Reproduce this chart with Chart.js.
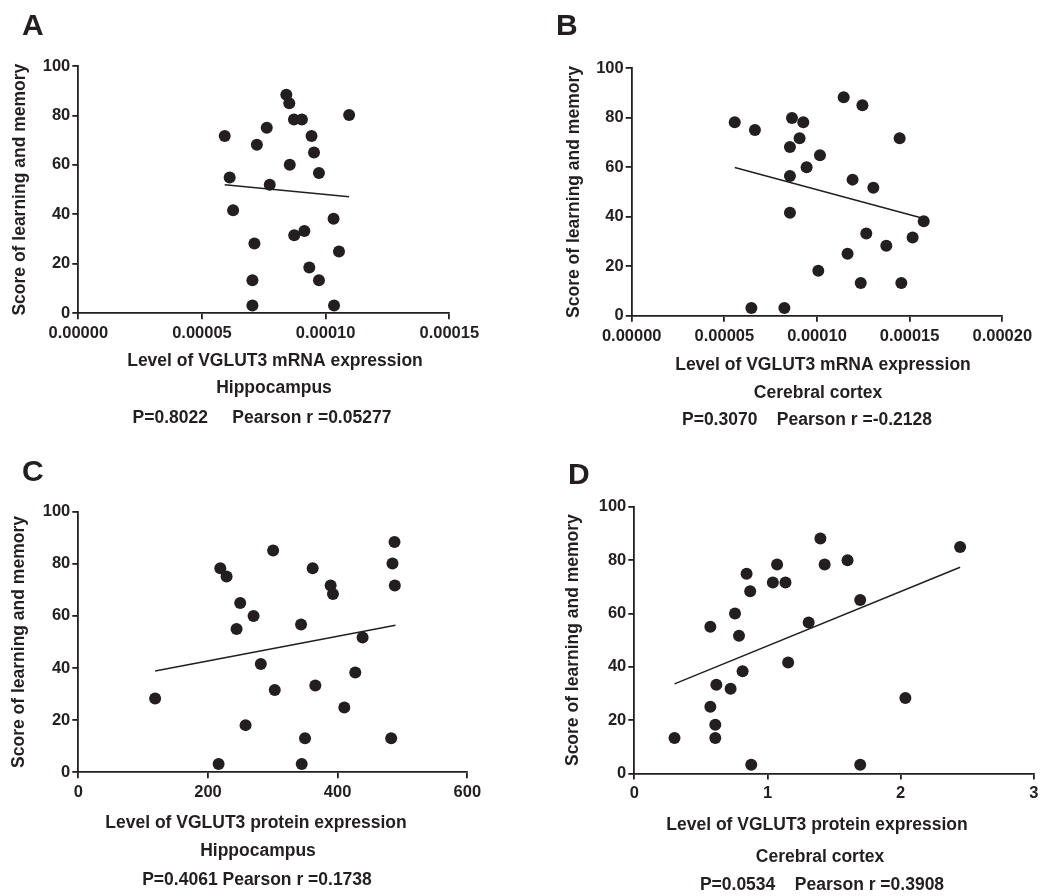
<!DOCTYPE html>
<html>
<head>
<meta charset="utf-8">
<script src="https://cdn.jsdelivr.net/npm/chart.js@4.4.0/dist/chart.umd.min.js"></script>
<style>
  html, body { margin: 0; padding: 0; background: #fff; }
  body { width: 1043px; height: 896px; position: relative; overflow: hidden; }
  canvas { position: absolute; }
</style>
</head>
<body>
<canvas id="panelA" width="521" height="448" style="left:0px;top:0px"></canvas>
<canvas id="panelB" width="522" height="448" style="left:521px;top:0px"></canvas>
<canvas id="panelC" width="521" height="448" style="left:0px;top:448px"></canvas>
<canvas id="panelD" width="522" height="448" style="left:521px;top:448px"></canvas>
<script>
// A - hippocampus, mRNA
const hipMrnaX = [5.92e-5, 6.12e-5, 6.26e-5, 7.04e-5, 7.04e-5, 7.12e-5, 7.22e-5, 7.62e-5, 7.74e-5, 8.41e-5,
                  8.53e-5, 8.55e-5, 8.72e-5, 8.73e-5, 9.04e-5, 9.14e-5, 9.34e-5, 9.43e-5, 9.53e-5, 9.73e-5,
                  9.73e-5, 1.032e-4, 1.034e-4, 1.054e-4, 1.095e-4];
const hipMrnaY = [71.7, 54.9, 41.7, 13.4, 3.2, 28.2, 68.2, 75.0, 52.0, 88.4,
                  84.9, 60.1, 78.4, 31.6, 78.4, 33.3, 18.5, 71.7, 65.0, 56.7,
                  13.4, 38.2, 3.2, 25.0, 80.2];
const hipMrnaFitX = [5.92e-5, 1.095e-4];
const hipMrnaFitY = [52.0, 47.1];

// B - cerebral cortex, mRNA
const ctxMrnaX = [5.56e-5, 6.46e-5, 6.65e-5, 8.24e-5, 8.54e-5, 8.54e-5, 8.54e-5, 8.65e-5, 9.06e-5, 9.26e-5,
                  9.44e-5, 1.007e-4, 1.016e-4, 1.144e-4, 1.165e-4, 1.192e-4, 1.236e-4, 1.245e-4, 1.266e-4, 1.304e-4,
                  1.374e-4, 1.446e-4, 1.455e-4, 1.516e-4, 1.576e-4];
const ctxMrnaY = [78.2, 3.1, 75.1, 3.1, 68.2, 56.5, 41.6, 79.9, 71.7, 78.2,
                  60.0, 18.2, 64.9, 88.3, 25.0, 55.0, 13.2, 85.1, 33.2, 51.7,
                  28.3, 71.7, 13.2, 31.6, 38.2];
const ctxMrnaFitX = [5.56e-5, 1.576e-4];
const ctxMrnaFitY = [59.9, 39.3];

// C - hippocampus, protein
const hipProtX = [118.5, 216.4, 219, 228.7, 244.1, 249.7, 258, 270.3, 281.5, 300.5,
                  303, 343.6, 344.6, 349.7, 361.5, 365.6, 389.2, 392.8, 410.3, 427.2,
                  438.5, 482.6, 484.6, 487.7, 488.2];
const hipProtY = [28.3, 3.2, 78.3, 75.1, 55.0, 65.0, 18.1, 60.0, 41.6, 85.1,
                  31.6, 56.7, 3.2, 13.1, 78.3, 33.3, 71.7, 68.4, 24.9, 38.3,
                  51.7, 13.1, 80.1, 88.4, 71.7];
const hipProtFitX = [118.5, 489.2];
const hipProtFitY = [38.9, 56.4];

// D - cerebral cortex, protein
const ctxProtX = [0.302, 0.571, 0.571, 0.608, 0.608, 0.616, 0.723, 0.756, 0.786, 0.813,
                  0.843, 0.870, 0.878, 1.04, 1.072, 1.135, 1.155, 1.309, 1.397, 1.429,
                  1.601, 1.696, 1.696, 2.035, 2.446];
const ctxProtY = [13.3, 55.0, 25.0, 18.3, 13.3, 33.3, 31.8, 60.0, 51.6, 38.3,
                  74.9, 68.3, 3.3, 71.6, 78.3, 71.6, 41.6, 56.6, 88.1, 78.3,
                  79.9, 65.0, 3.3, 28.3, 84.9];
const ctxProtFitX = [0.302, 2.446];
const ctxProtFitY = [33.6, 77.3];

// axis ticks
const scoreTicks = [0, 20, 40, 60, 80, 100];
const mrnaHipTicks = [0, 0.00005, 0.0001, 0.00015];
const mrnaCtxTicks = [0, 0.00005, 0.0001, 0.00015, 0.0002];
const protHipTicks = [0, 200, 400, 600];
const protCtxTicks = [0, 1, 2, 3];

const INK = '#231f20';
const FONT = '"Liberation Sans", Arial, Helvetica, sans-serif';

// letter + the three lines under each x axis
const panelText = {
    id: 'panelText',
    afterDraw(chart, args, opts) {
        const ctx = chart.ctx;
        ctx.save();
        ctx.fillStyle = INK;
        ctx.font = 'bold 30px ' + FONT;
        ctx.textAlign = 'left';
        ctx.textBaseline = 'alphabetic';
        ctx.fillText(opts.letter, opts.letterX - opts.offX, opts.letterY - opts.offY);
        ctx.font = 'bold 17.5px ' + FONT;
        ctx.textAlign = 'center';
        ctx.textBaseline = 'middle';
        for (let i = 0; i < opts.lines.length; i++) {
            const l = opts.lines[i];
            ctx.fillText(l.text, l.x - opts.offX, l.y - opts.offY);
        }
        ctx.restore();
    }
};

function toPoints(xs, ys) {
    return xs.map((v, i) => ({ x: v, y: ys[i] }));
}

function makePanel(id, geo, xs, ys, fitX, fitY, xTicks, decimals, text) {
    const canvas = document.getElementById(id);
    const left = geo.canvasLeft, top = geo.canvasTop;
    const w = canvas.width, h = canvas.height;

    new Chart(canvas.getContext('2d'), {
        type: 'scatter',
        data: {
            datasets: [{
                data: toPoints(xs, ys),
                pointRadius: 6,
                pointBackgroundColor: INK,
                pointBorderWidth: 0,
                order: 2
            }, {
                data: toPoints(fitX, fitY),
                showLine: true,
                pointRadius: 0,
                borderColor: INK,
                borderWidth: 1.5,
                order: 1
            }]
        },
        options: {
            responsive: false,
            animation: false,
            layout: {
                padding: {
                    left: 0,
                    top: geo.plotTop - top,
                    right: left + w - geo.plotRight,
                    bottom: 0
                }
            },
            plugins: {
                legend: { display: false },
                tooltip: { enabled: false },
                panelText: Object.assign({ offX: left, offY: top }, text)
            },
            scales: {
                x: {
                    type: 'linear',
                    min: xTicks[0],
                    max: xTicks[xTicks.length - 1],
                    afterBuildTicks: s => { s.ticks = xTicks.map(v => ({ value: v })); },
                    afterFit: s => { s.height = top + h - geo.plotBottom; },
                    grid: { drawOnChartArea: false, drawTicks: true, tickLength: 6, color: INK, lineWidth: 1.8 },
                    border: { display: true, color: INK, width: 1.8 },
                    ticks: {
                        color: INK,
                        padding: 4.5,
                        maxRotation: 0,
                        autoSkip: false,
                        font: { family: FONT, size: 16.5, weight: 'bold' },
                        callback: v => Number(v).toFixed(decimals)
                    }
                },
                y: {
                    type: 'linear',
                    min: 0,
                    max: 100,
                    afterBuildTicks: s => { s.ticks = scoreTicks.map(v => ({ value: v })); },
                    afterFit: s => { s.width = geo.plotLeft - left; },
                    grid: { drawOnChartArea: false, drawTicks: true, tickLength: 6, color: INK, lineWidth: 1.8 },
                    border: { display: true, color: INK, width: 1.8 },
                    ticks: {
                        color: INK,
                        padding: 2,
                        font: { family: FONT, size: 16.5, weight: 'bold' }
                    },
                    title: {
                        display: true,
                        text: 'Score of learning and memory',
                        color: INK,
                        font: { family: FONT, size: 17.5, weight: 'bold', lineHeight: 1.2 },
                        padding: { top: geo.yTitleX - left - 10.5, bottom: 0 }
                    }
                }
            }
        },
        plugins: [panelText]
    });
}

makePanel('panelA',
    { canvasLeft: 0, canvasTop: 0, plotLeft: 78.3, plotRight: 449.3, plotTop: 66, plotBottom: 313.3, yTitleX: 20 },
    hipMrnaX, hipMrnaY, hipMrnaFitX, hipMrnaFitY, mrnaHipTicks, 5,
    { letter: 'A', letterX: 22, letterY: 35, lines: [
        { text: 'Level of VGLUT3 mRNA expression', x: 275, y: 361 },
        { text: 'Hippocampus', x: 274, y: 388 },
        { text: 'P=0.8022     Pearson r =0.05277', x: 262, y: 418 }
    ] });

makePanel('panelB',
    { canvasLeft: 521, canvasTop: 0, plotLeft: 631.7, plotRight: 1002.3, plotTop: 68.3, plotBottom: 315.7, yTitleX: 574 },
    ctxMrnaX, ctxMrnaY, ctxMrnaFitX, ctxMrnaFitY, mrnaCtxTicks, 5,
    { letter: 'B', letterX: 556, letterY: 35, lines: [
        { text: 'Level of VGLUT3 mRNA expression', x: 823, y: 365 },
        { text: 'Cerebral cortex', x: 818, y: 393 },
        { text: 'P=0.3070    Pearson r =-0.2128', x: 807, y: 420 }
    ] });

makePanel('panelC',
    { canvasLeft: 0, canvasTop: 448, plotLeft: 78.3, plotRight: 467.3, plotTop: 511.7, plotBottom: 772.3, yTitleX: 19.5 },
    hipProtX, hipProtY, hipProtFitX, hipProtFitY, protHipTicks, 0,
    { letter: 'C', letterX: 22, letterY: 481, lines: [
        { text: 'Level of VGLUT3 protein expression', x: 256, y: 823 },
        { text: 'Hippocampus', x: 258, y: 851 },
        { text: 'P=0.4061 Pearson r =0.1738', x: 257, y: 880 }
    ] });

makePanel('panelD',
    { canvasLeft: 521, canvasTop: 448, plotLeft: 634.3, plotRight: 1035, plotTop: 506.7, plotBottom: 773.5, yTitleX: 573 },
    ctxProtX, ctxProtY, ctxProtFitX, ctxProtFitY, protCtxTicks, 0,
    { letter: 'D', letterX: 568, letterY: 484, lines: [
        { text: 'Level of VGLUT3 protein expression', x: 817, y: 825 },
        { text: 'Cerebral cortex', x: 820, y: 857 },
        { text: 'P=0.0534    Pearson r =0.3908', x: 822, y: 885 }
    ] });
</script>
</body>
</html>
